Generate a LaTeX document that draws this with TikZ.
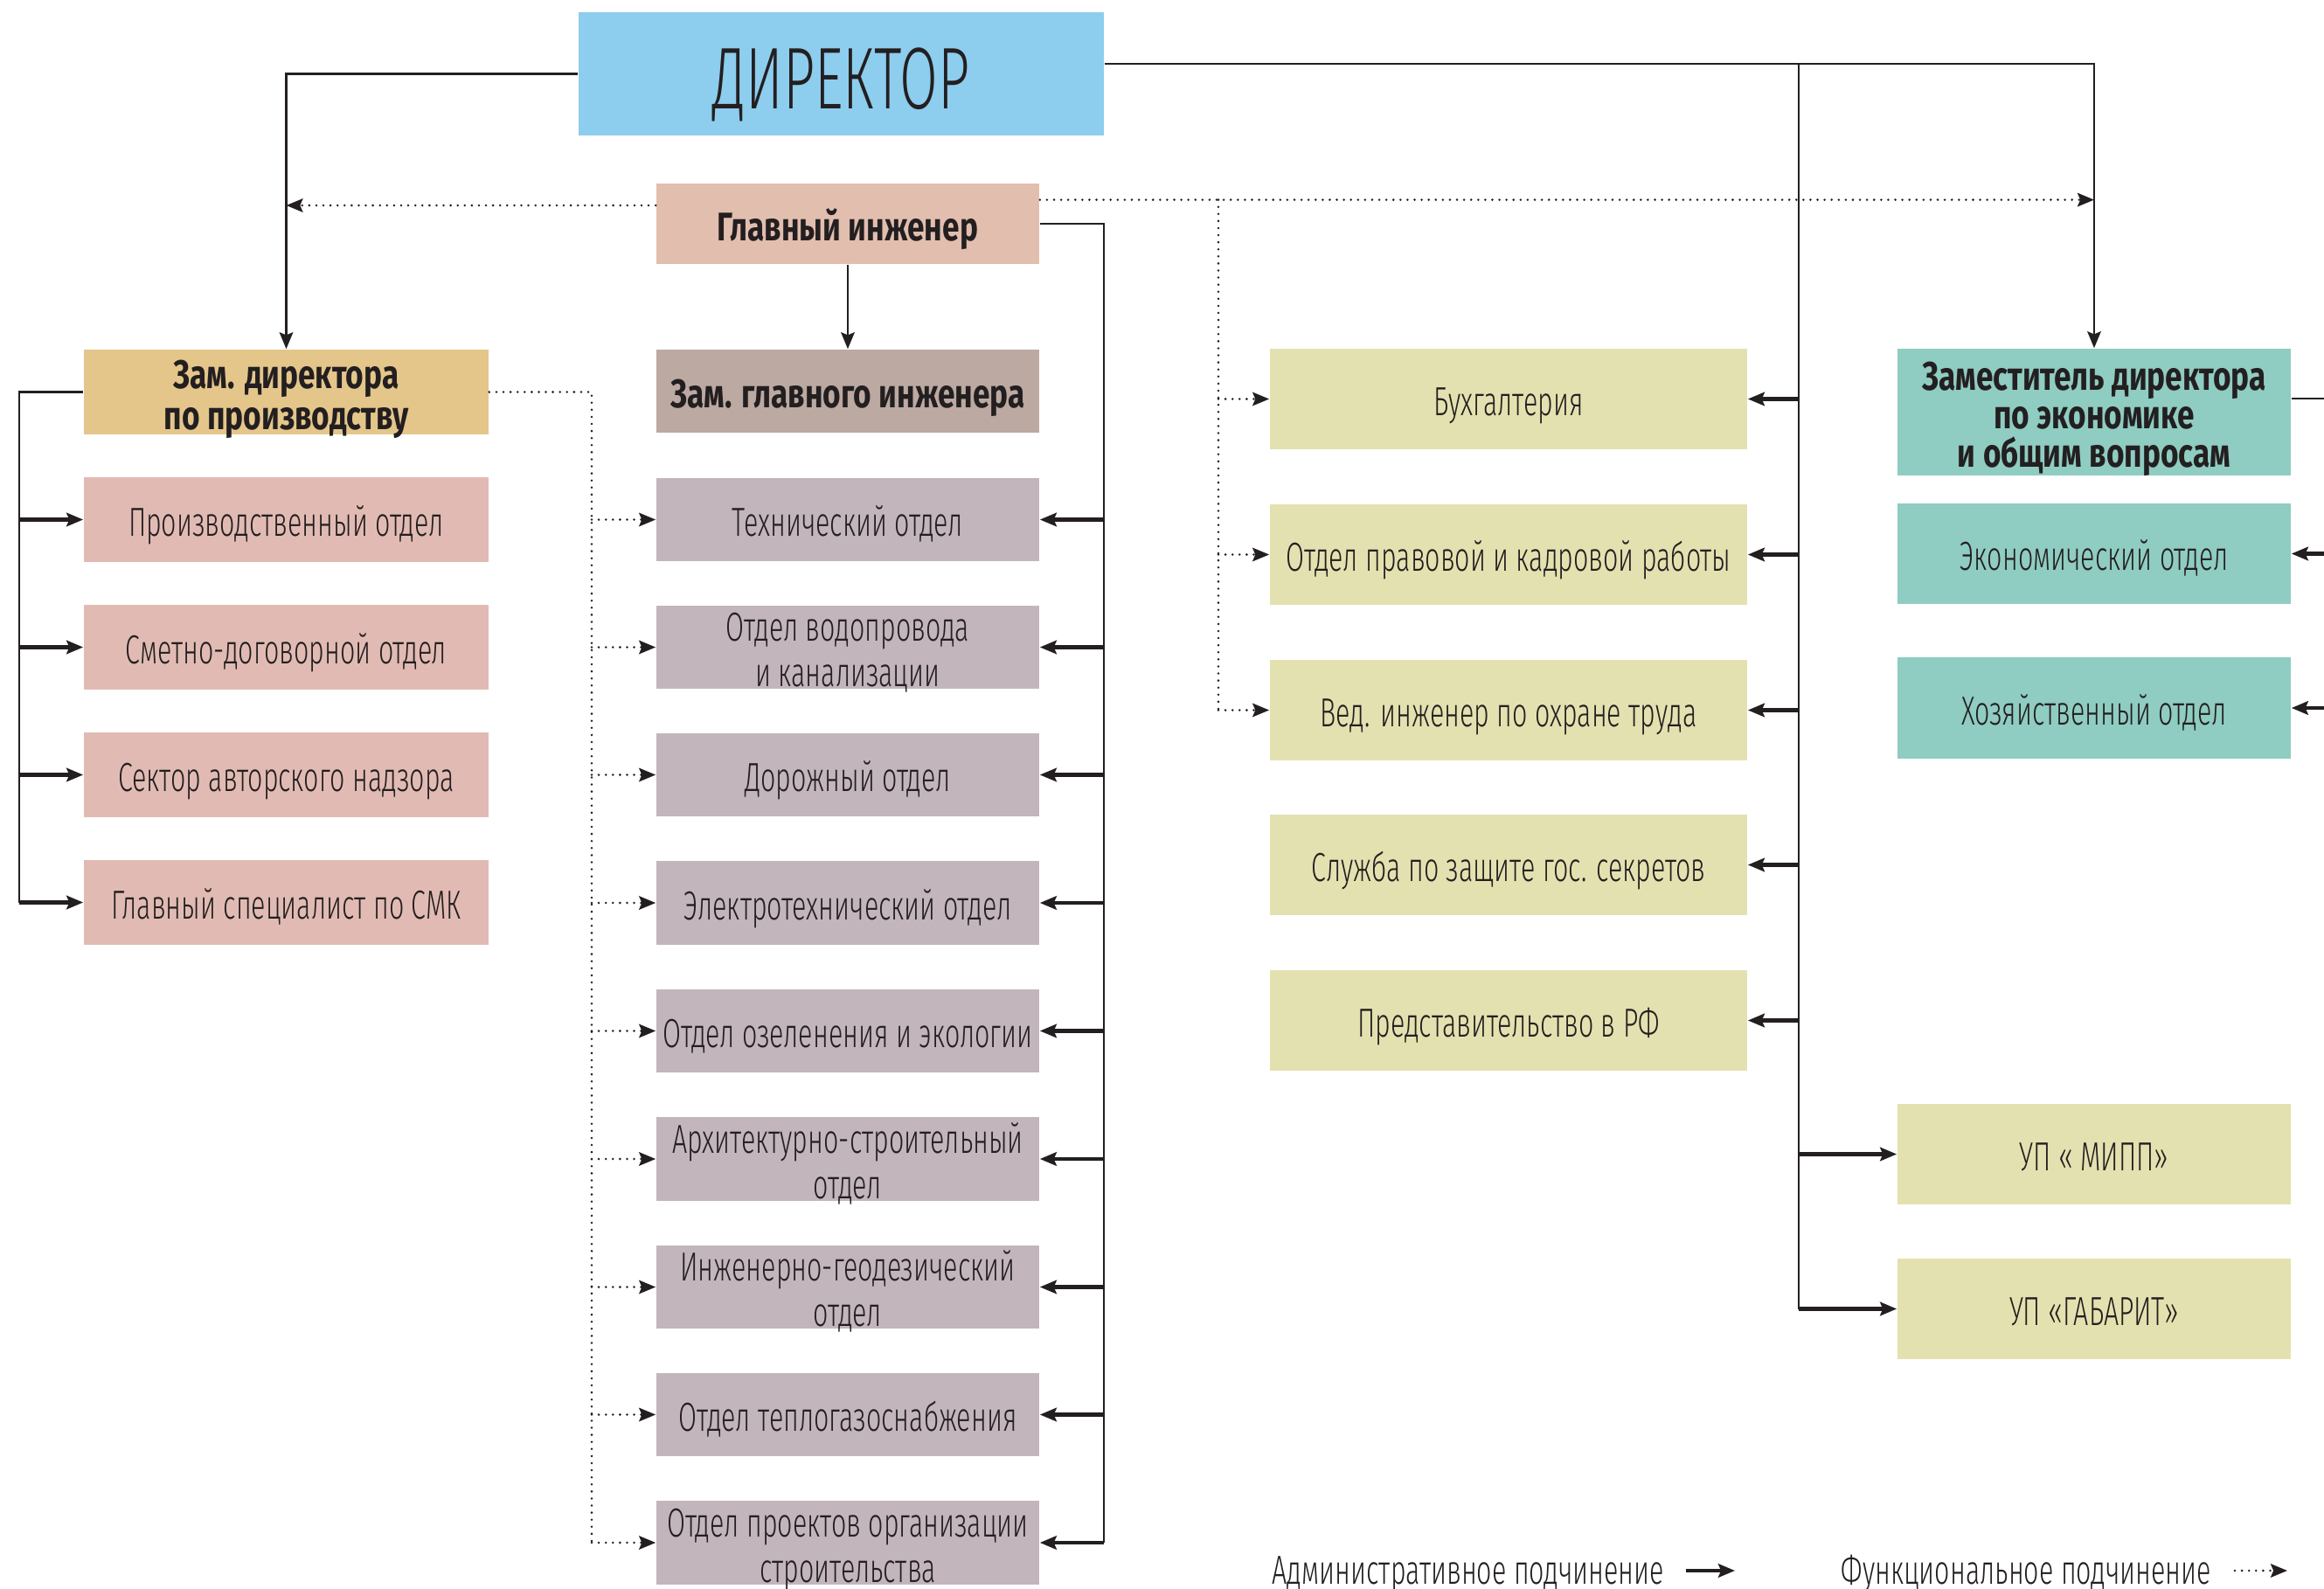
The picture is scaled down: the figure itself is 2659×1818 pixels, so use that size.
\documentclass[tikz,border=0pt]{standalone}
\usepackage{fontspec}
\setmainfont{Fira Sans Light}[FakeStretch=0.655]
\newfontfamily\bfam{Fira Sans}[FakeStretch=0.77]
\newfontfamily\dfam{Fira Sans Light}[FakeStretch=0.633]
\usetikzlibrary{arrows.meta}
\definecolor{cDir}{HTML}{8DCDEE}
\definecolor{cGI}{HTML}{E2BEAE}
\definecolor{cZGI}{HTML}{BBA9A2}
\definecolor{cZDP}{HTML}{E4C68B}
\definecolor{cLeft}{HTML}{E1BBB3}
\definecolor{cMid}{HTML}{C3B5BC}
\definecolor{cYel}{HTML}{E4E1B0}
\definecolor{cTeal}{HTML}{8FCCC1}
\definecolor{ink}{HTML}{231F20}
\begin{document}
\begin{tikzpicture}[x=0.01cm,y=-0.01cm,
  box/.style={rectangle, inner sep=0pt, align=center, text=ink, text height=11pt, text depth=0pt, font=\fontsize{13.2}{14.8}\selectfont},
  two/.style={text height=25.8pt},
  bbox/.style={box, font=\bfam\bfseries\fontsize{13}{12.5}\selectfont},
  lbox/.style={box, fill=cLeft, minimum width=4.63cm, minimum height=0.97cm},
  mbox/.style={box, fill=cMid, minimum width=4.38cm, minimum height=0.95cm},
  ybox/.style={box, fill=cYel, minimum width=5.46cm, minimum height=1.15cm},
  tbox/.style={box, fill=cTeal, minimum width=4.50cm, minimum height=1.15cm},
  ubox/.style={box, fill=cYel, minimum width=4.50cm, minimum height=1.15cm},
  tipS/.style={-{Stealth[length=5.4pt,width=4.4pt,inset=0.9pt]}},
  busl/.style={draw=ink, line width=0.8pt},
  adm/.style={busl, tipS},
  stub/.style={draw=ink, line width=1.15pt, tipS},
  funl/.style={draw=ink, line width=0.8pt, line cap=round, dash pattern=on 0pt off 2.3pt},
  fun/.style={funl, tipS},
  lgd/.style={text=ink, inner sep=0pt, font=\fontsize{13.2}{14.8}\selectfont}
]
\fill[white] (0,0) rectangle (2659,1818);
\useasboundingbox (0,0) rectangle (2659,1818);

% top level
\node[box, fill=cDir, minimum width=6.01cm, minimum height=1.41cm, text height=22.6pt, font=\dfam\fontsize{28.5}{30}\selectfont] (dir) at (962.5,84.5) {ДИРЕКТОР};
\node[bbox, fill=cGI, minimum width=4.38cm, minimum height=0.92cm] (gi) at (970,256) {Главный инженер};
\node[bbox, fill=cZGI, minimum width=4.38cm, minimum height=0.95cm] (zgi) at (970,447.5) {Зам. главного инженера};
\node[bbox, fill=cZDP, minimum width=4.63cm, minimum height=0.97cm, font=\bfam\bfseries\fontsize{13}{13.3}\selectfont, text height=24.3pt] (zdp) at (327.5,448.5) {Зам. директора\\по производству};
\node[bbox, fill=cTeal, minimum width=4.50cm, minimum height=1.45cm, text height=36pt] (zde) at (2396,471.5) {Заместитель директора\\по экономике\\и общим вопросам};

% left column
\node[lbox] (p1) at (327.5,594.5) {Производственный отдел};
\node[lbox] (p2) at (327.5,740.5) {Сметно-договорной отдел};
\node[lbox] (p3) at (327.5,886.5) {Сектор авторского надзора};
\node[lbox] (p4) at (327.5,1032.5) {Главный специалист по СМК};

% middle column
\node[mbox] (m1) at (970,594.5) {Технический отдел};
\node[mbox, two] (m2) at (970,740.5) {Отдел водопровода\\и канализации};
\node[mbox] (m3) at (970,886.5) {Дорожный отдел};
\node[mbox] (m4) at (970,1033) {Электротехнический отдел};
\node[mbox] (m5) at (970,1179.5) {Отдел озеленения и экологии};
\node[mbox, two] (m6) at (970,1326) {Архитектурно-строительный\\отдел};
\node[mbox, two] (m7) at (970,1472.5) {Инженерно-геодезический\\отдел};
\node[mbox] (m8) at (970,1618.5) {Отдел теплогазоснабжения};
\node[mbox, two] (m9) at (970,1765) {Отдел проектов организации\\строительства};

% yellow column
\node[ybox] (y1) at (1726,456.5) {Бухгалтерия};
\node[ybox] (y2) at (1726,634.5) {Отдел правовой и кадровой работы};
\node[ybox] (y3) at (1726,812.5) {Вед. инженер по охране труда};
\node[ybox] (y4) at (1726,989.5) {Служба по защите гос. секретов};
\node[ybox] (y5) at (1726,1167.5) {Представительство в РФ};

% right column
\node[tbox] (t1) at (2396,633.5) {Экономический отдел};
\node[tbox] (t2) at (2396,810) {Хозяйственный отдел};
\node[ubox] (u1) at (2396,1320.5) {УП « МИПП»};
\node[ubox] (u2) at (2396,1497.5) {УП «ГАБАРИТ»};

% coordinates
\coordinate (jR) at (2058,73);
\coordinate (fL) at (327.5,235);
\coordinate (fR) at (2396,228.6);
\coordinate (fB) at (1394,228.6);
\coordinate (gR) at (1263,256);
\coordinate (pL) at (22,448.5);
\coordinate (pR) at (677,448.5);
\coordinate (eR) at (2659,456);

% director connections
\draw[adm] (dir.west) -| (zdp.north);
\draw[adm] (dir.east |- jR) -| (zde.north);
\draw[busl] (jR) -- (jR |- u2);
\foreach \n in {y1,y2,y3,y4,y5} \draw[stub] (jR |- \n) -- (\n.east);
\foreach \n in {u1,u2} \draw[stub] (jR |- \n) -- (\n.west);

% chief engineer
\draw[fun] (gi.west |- fL) -- (fL);
\draw[fun] (gi.east |- fR) -- (fR);
\draw[funl] (fB) -- (fB |- y3);
\foreach \n in {y1,y2,y3} \draw[fun] (fB |- \n) -- (\n.west);
\draw[adm] (gi.south) -- (zgi.north);
\draw[busl] (gi.east) -- (gR) -- (gR |- m9);
\foreach \n in {m1,m2,m3,m4,m5,m6,m7,m8,m9} \draw[stub] (gR |- \n) -- (\n.east);

% deputy production
\draw[busl] (zdp.west) -- (pL) -- (pL |- p4);
\foreach \n in {p1,p2,p3,p4} \draw[stub] (pL |- \n) -- (\n.west);
\draw[funl] (zdp.east) -- (pR) -- (pR |- m9);
\foreach \n in {m1,m2,m3,m4,m5,m6,m7,m8,m9} \draw[fun] (pR |- \n) -- (\n.west);

% deputy economics
\draw[busl] (zde.east |- eR) -- (eR);
\draw[stub] (eR |- t1) -- (t1.east);
\draw[stub] (eR |- t2) -- (t2.east);

% legend
\node[lgd, anchor=base west] (lgA) at (1455,1812) {Административное подчинение};
\node[lgd, anchor=base west] (lgF) at (2106,1812) {Функциональное подчинение};
\coordinate (la1) at (1929,1797);
\coordinate (la2) at (1985,1797);
\coordinate (lf1) at (2557,1797);
\coordinate (lf2) at (2617,1797);
\draw[stub] (la1) -- (la2);
\draw[fun] (lf1) -- (lf2);
\end{tikzpicture}
\end{document}
